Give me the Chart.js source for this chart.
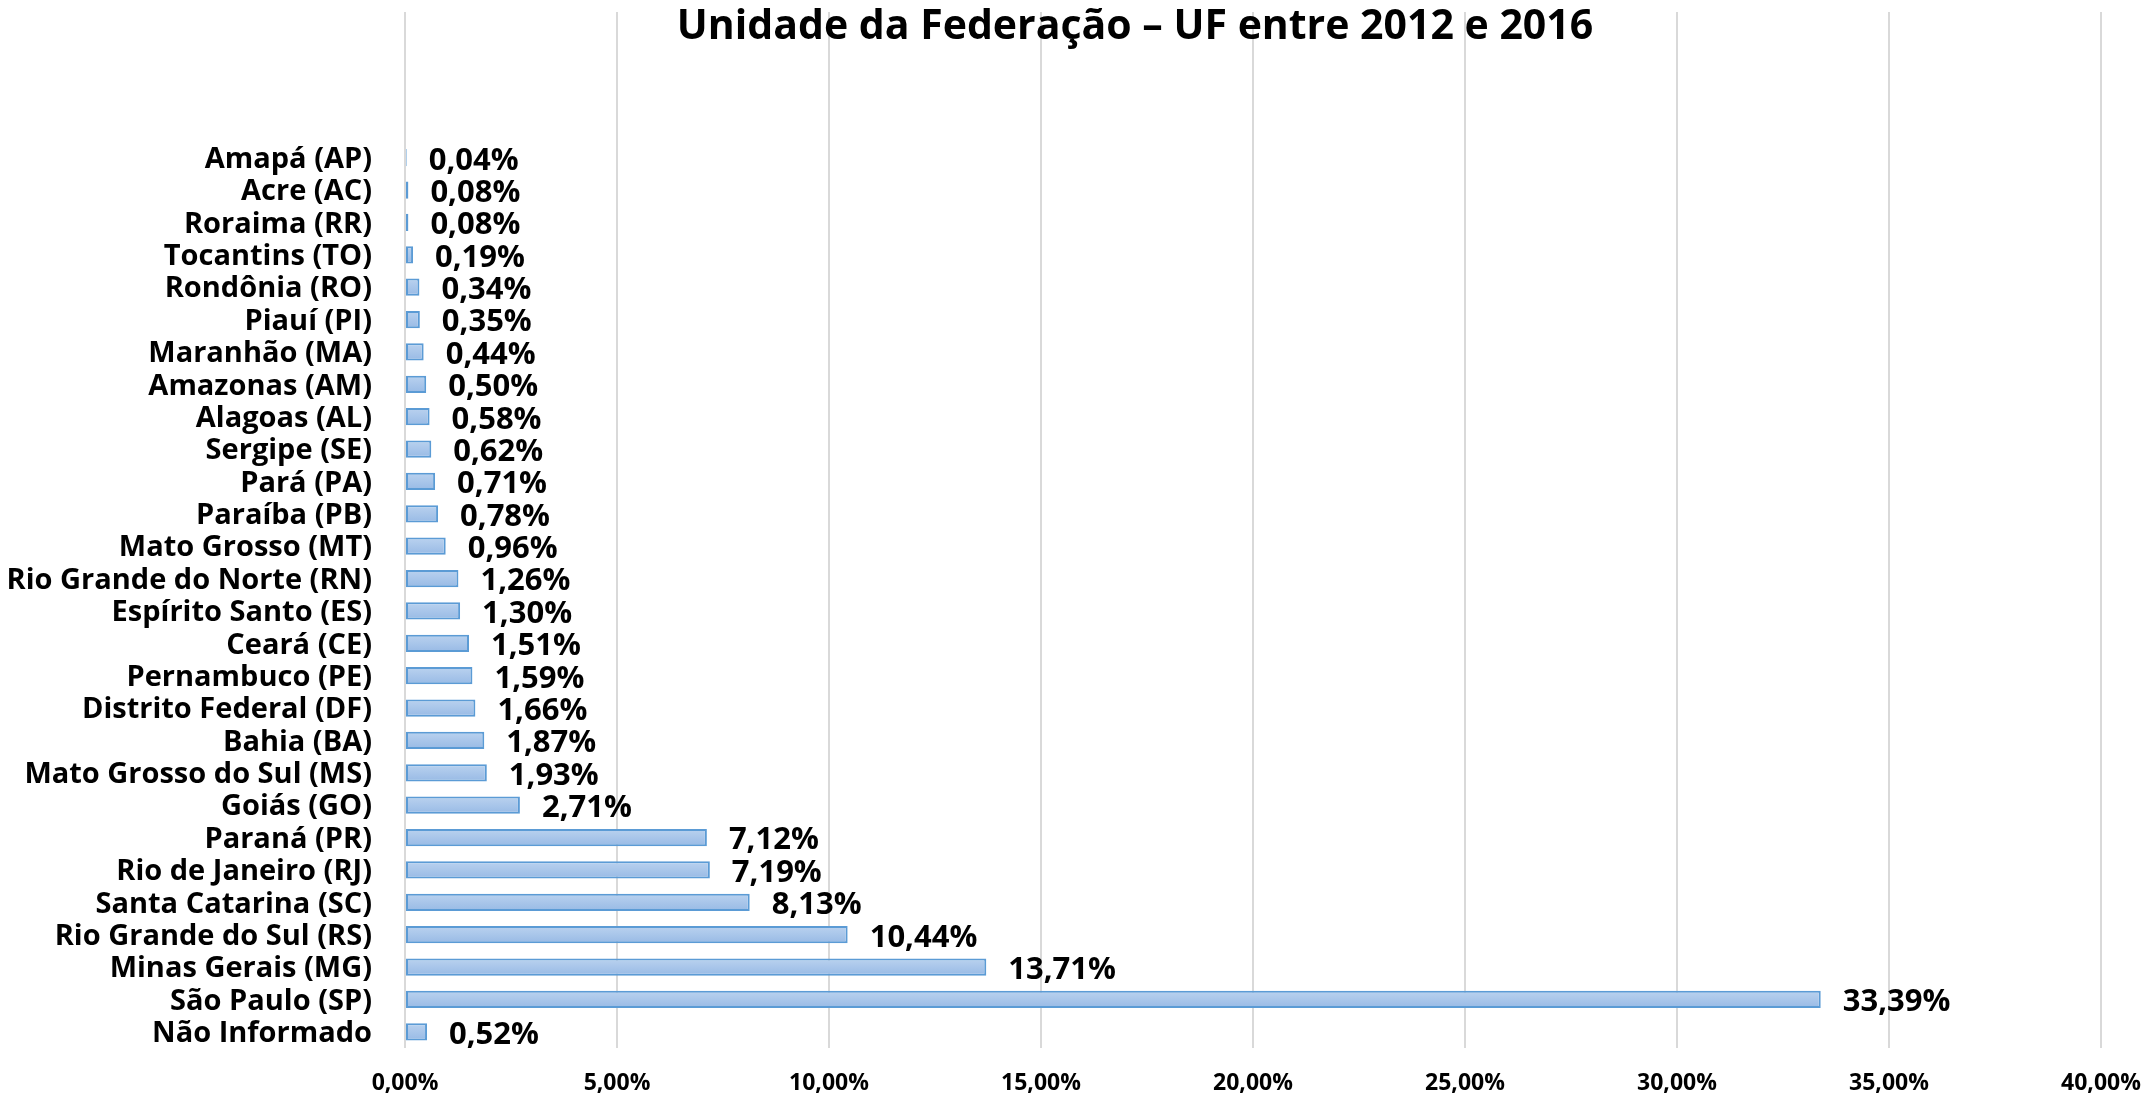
<!DOCTYPE html>
<html>
<head>
<meta charset="utf-8">
<script src="https://cdn.jsdelivr.net/npm/chart.js@4.4.0/dist/chart.umd.min.js"></script>
<style>
  html, body { margin: 0; padding: 0; background: #ffffff; }
  #wrap { width: 2146px; height: 1095px; }
</style>
</head>
<body>
<div id="wrap"><canvas id="c" width="2146" height="1095"></canvas></div>
<script>
const chartTitle = 'Unidade da Federação – UF entre 2012 e 2016';
const categories = [
  'Amapá (AP)', 'Acre (AC)', 'Roraima (RR)', 'Tocantins (TO)', 'Rondônia (RO)',
  'Piauí (PI)', 'Maranhão (MA)', 'Amazonas (AM)', 'Alagoas (AL)', 'Sergipe (SE)',
  'Pará (PA)', 'Paraíba (PB)', 'Mato Grosso (MT)', 'Rio Grande do Norte (RN)',
  'Espírito Santo (ES)', 'Ceará (CE)', 'Pernambuco (PE)', 'Distrito Federal (DF)',
  'Bahia (BA)', 'Mato Grosso do Sul (MS)', 'Goiás (GO)', 'Paraná (PR)',
  'Rio de Janeiro (RJ)', 'Santa Catarina (SC)', 'Rio Grande do Sul (RS)',
  'Minas Gerais (MG)', 'São Paulo (SP)', 'Não Informado'
];
const percentages = [
  0.04, 0.08, 0.08, 0.19, 0.34,
  0.35, 0.44, 0.50, 0.58, 0.62,
  0.71, 0.78, 0.96, 1.26,
  1.30, 1.51, 1.59, 1.66,
  1.87, 1.93, 2.71, 7.12,
  7.19, 8.13, 10.44,
  13.71, 33.39, 0.52
];
const xTickValues = [0, 5, 10, 15, 20, 25, 30, 35, 40];
const emptyTopSlots = 4;

const fmt = v => v.toFixed(2).replace('.', ',') + '%';
const FONT = "'Open Sans', sans-serif";
const BAR_PCT = 0.53;

const labels = Array(emptyTopSlots).fill('').concat(categories);
const values = Array(emptyTopSlots).fill(null).concat(percentages);

function barFill(c) {
  const solid = '#a7c4ea';
  const chart = c.chart;
  const ys = chart.scales && chart.scales.y;
  if (!ys || c.dataIndex === undefined || !chart.chartArea) return solid;
  const yc = ys.getPixelForValue(c.dataIndex);
  const slot = Math.abs(ys.getPixelForValue(1) - ys.getPixelForValue(0));
  const half = slot * BAR_PCT / 2;
  if (!isFinite(yc) || !isFinite(half) || half <= 0) return solid;
  const g = chart.ctx.createLinearGradient(0, yc - half, 0, yc + half);
  g.addColorStop(0, '#bad2ef');
  g.addColorStop(1, '#98bae5');
  return g;
}

const titlePlugin = {
  id: 'overlayTitle',
  afterDraw(chart) {
    const ctx = chart.ctx;
    ctx.save();
    ctx.font = 'bold 41px ' + FONT;
    ctx.fillStyle = '#000000';
    ctx.textAlign = 'center';
    ctx.textBaseline = 'alphabetic';
    ctx.fillText(chartTitle, 1135, 39);
    ctx.restore();
  }
};

const valueLabels = {
  id: 'valueLabels',
  afterDatasetsDraw(chart) {
    const ctx = chart.ctx;
    const meta = chart.getDatasetMeta(0);
    ctx.save();
    ctx.font = 'bold 31px ' + FONT;
    ctx.fillStyle = '#000000';
    ctx.textAlign = 'left';
    ctx.textBaseline = 'middle';
    meta.data.forEach((el, i) => {
      const v = chart.data.datasets[0].data[i];
      if (v === null || v === undefined) return;
      ctx.fillText(fmt(v), el.x + 22, el.y + 3);
    });
    ctx.restore();
  }
};

new Chart(document.getElementById('c'), {
  type: 'bar',
  data: {
    labels: labels,
    datasets: [{
      data: values,
      backgroundColor: barFill,
      borderColor: '#5b9bd5',
      borderWidth: 2,
      borderSkipped: false,
      categoryPercentage: 1.0,
      barPercentage: BAR_PCT
    }]
  },
  options: {
    indexAxis: 'y',
    responsive: false,
    animation: false,
    layout: { padding: { top: 12, right: 45, bottom: 0, left: 0 } },
    plugins: {
      legend: { display: false },
      title: { display: false },
      tooltip: { enabled: false }
    },
    scales: {
      x: {
        type: 'linear',
        min: 0,
        max: 40,
        afterBuildTicks(scale) { scale.ticks = xTickValues.map(v => ({ value: v })); },
        afterFit(scale) {
          scale.height = 47;
          scale.paddingLeft = 0;
          scale.paddingRight = 0;
        },
        grid: { color: '#d9d9d9', lineWidth: 2, drawTicks: false },
        border: { display: false },
        ticks: {
          padding: 22,
          color: '#000000',
          font: { family: FONT, size: 23, weight: 'bold' },
          callback: v => fmt(v),
          maxRotation: 0
        }
      },
      y: {
        type: 'category',
        afterFit(scale) {
          scale.width = 405;
          scale.paddingTop = 0;
          scale.paddingBottom = 0;
        },
        grid: { display: false, drawTicks: false },
        border: { display: false },
        ticks: {
          padding: 33,
          labelOffset: 2,
          color: '#000000',
          autoSkip: false,
          font: { family: FONT, size: 29, weight: 'bold' }
        }
      }
    }
  },
  plugins: [titlePlugin, valueLabels]
});
</script>
</body>
</html>
